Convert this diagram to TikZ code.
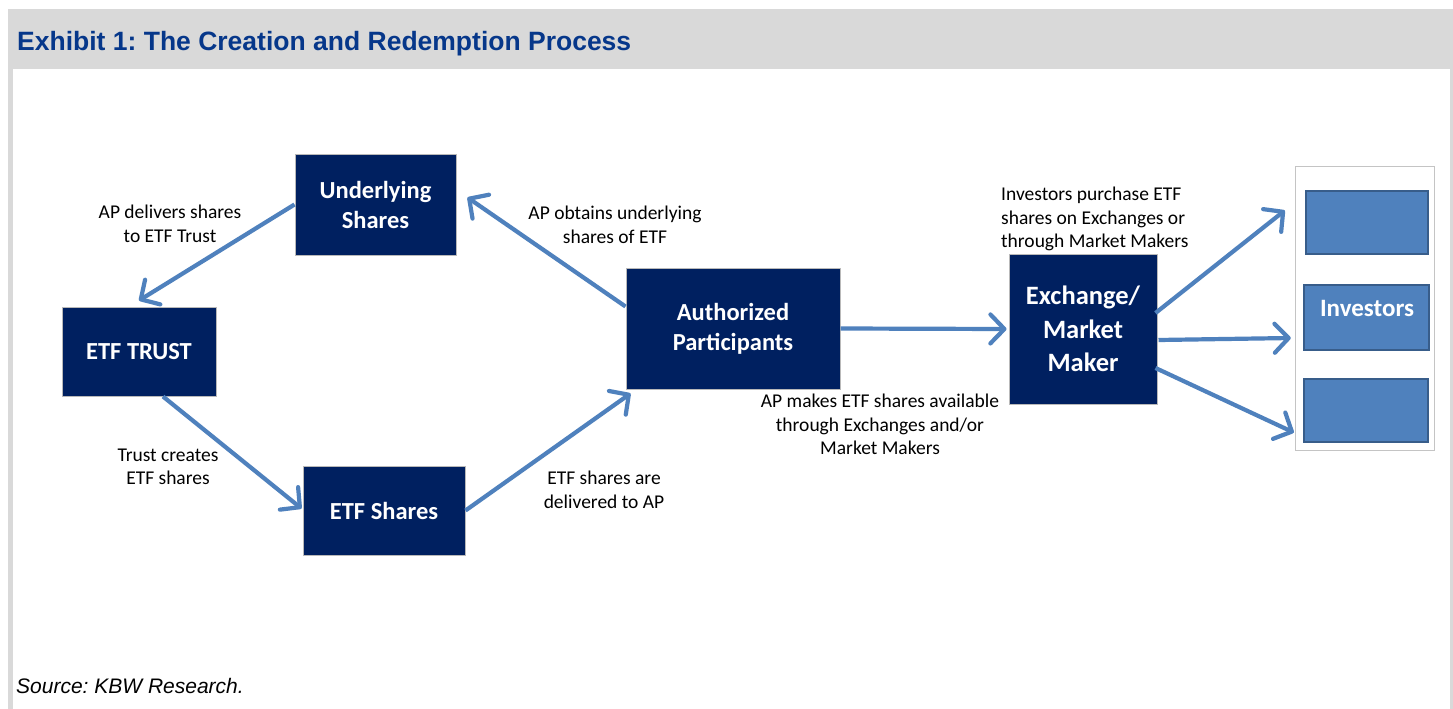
\documentclass[tikz,border=0pt]{standalone}
\usepackage{fontspec}
\setmainfont{Carlito}
\newfontfamily\headfont{Liberation Sans}
\usetikzlibrary{arrows.meta,calc}
\frenchspacing
\definecolor{navy}{HTML}{002060}
\definecolor{flowblue}{HTML}{4F81BD}
\definecolor{flowdark}{HTML}{385D8A}
\definecolor{bandgray}{HTML}{D9D9D9}
\definecolor{titleblue}{HTML}{06378A}
\definecolor{framegray}{HTML}{C4C4C4}
\tikzset{
  navybox/.style={draw=gray!55, line width=1pt, fill=navy, text=white, inner sep=0pt,
    align=center, font=\fontsize{24.5}{30}\selectfont\bfseries},
  invbox/.style={draw=flowdark, line width=2.5pt, fill=flowblue, inner sep=0pt},
  flow/.style={draw=flowblue, line width=4.2pt, -{Straight Barb[length=14pt,width=29pt,round]}},
  note/.style={align=center, inner sep=0pt, font=\fontsize{19.5}{23.5}\selectfont},
}
\begin{document}
\begin{tikzpicture}[x=1pt,y=-1pt]
  \useasboundingbox (0,0) rectangle (1453,709);
  \fill[white] (0,0) rectangle (1453,709);

  % header band and side rules of the exhibit frame
  \fill[bandgray] (8,9) rectangle (1453,69);
  \fill[bandgray] (8,69) rectangle (12.5,709);
  \fill[bandgray] (1449.5,69) rectangle (1453,709);
  \node[anchor=base west, inner sep=0pt, text=titleblue,
        font=\headfont\bfseries\fontsize{26.5}{30}\selectfont] (title) at (17,51)
        {Exhibit 1: The Creation and Redemption Process};
  \node[anchor=base west, inner sep=0pt,
        font=\headfont\itshape\fontsize{21}{25}\selectfont] (source) at (16,693)
        {Source: KBW Research.};

  % main process boxes
  \node[navybox, minimum width=161pt, minimum height=101pt] (us) at (375.5,204.5) {Underlying\\Shares};
  \node[navybox, minimum width=154pt, minimum height=89pt] (trust) at (139,351.5) {ETF TRUST};
  \node[navybox, minimum width=162pt, minimum height=89pt] (etfs) at (384,510.5) {ETF Shares};
  \node[navybox, minimum width=214pt, minimum height=121pt] (ap) at (733,328.5) {Authorized\\Participants};
  \node[navybox, minimum width=148pt, minimum height=150pt,
        font=\fontsize{26.5}{33.5}\selectfont\bfseries] (ex) at (1083,329) {Exchange/\\Market\\Maker};

  % investor group
  \node[draw=framegray, line width=1pt, inner sep=0pt,
        minimum width=139pt, minimum height=284pt] (invgroup) at (1364.5,308) {};
  \node[invbox, minimum width=122pt, minimum height=63pt] (inv1) at (1367,222.5) {};
  \node[invbox, minimum width=125pt, minimum height=65pt] (inv2) at (1366.5,317.5) {};
  \node[invbox, minimum width=124pt, minimum height=63pt] (inv3) at (1366,410.5) {};
  \node[inner sep=0pt, text=white, font=\fontsize{25}{30}\selectfont\bfseries]
        (invlabel) at (1367,308) {Investors};

  % flow labels
  \node[note] (l1) at (170,224) {AP delivers shares\\to ETF Trust};
  \node[note] (l2) at (168,467) {Trust creates\\ETF shares};
  \node[note] (l3) at (615,225) {AP obtains underlying\\shares of ETF};
  \node[note] (l4) at (604,490) {ETF shares are\\delivered to AP};
  \node[note] (l5) at (880,424.5) {AP makes ETF shares available\\through Exchanges and/or\\Market Makers};
  \node[note, align=left, anchor=west] (l6) at (1001,219) {Investors purchase ETF\\shares on Exchanges or\\through Market Makers};

  % flows
  \draw[flow] (us.west) -- ($(trust.north)+(0,-6)$);
  \draw[flow] ($(trust.south)+(24,0)$) -- ($(etfs.west)+(-1,-2)$);
  \draw[flow] (etfs.east) -- ($(ap.south west)+(5,4)$);
  \draw[flow] ($(ap.west)+(0,-22)$) -- ($(us.east)+(11,-7)$);
  \draw[flow] (ap.east) -- ($(ex.west)+(-2,0)$);
  \draw[flow] ($(ex.east)+(-2,-16)$) -- ($(inv1.west)+(-20,-12)$);
  \draw[flow] ($(ex.east)+(1,11)$) -- ($(inv2.west)+(-12,20.5)$);
  \draw[flow] ($(ex.east)+(-2,39)$) -- ($(inv3.west)+(-9,22)$);
\end{tikzpicture}
\end{document}
